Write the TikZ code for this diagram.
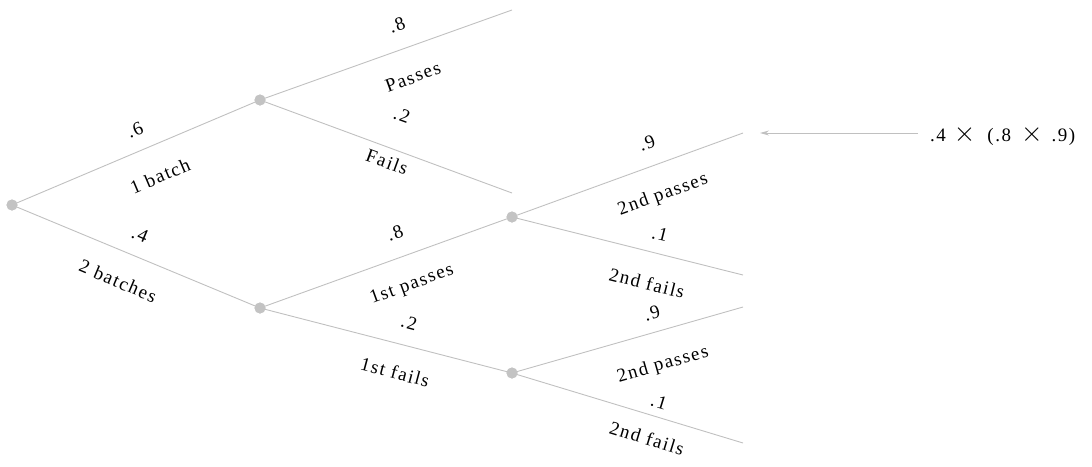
\documentclass[tikz,border=0pt]{standalone}
\usepackage{fontspec}
\setmainfont{Liberation Serif}
\newfontfamily\spacedfont[LetterSpace=8]{Liberation Serif}
\usetikzlibrary{arrows.meta}
\definecolor{linegray}{RGB}{192,192,192}
\definecolor{dotgray}{RGB}{195,195,195}
\newcommand{\bigtimes}{\scalebox{1.6}{$\times$}}
\begin{document}
\begin{tikzpicture}[x=1pt,y=-1pt,
  branch/.style={draw=linegray, line width=0.9pt},
  dot/.style={circle, fill=dotgray, inner sep=0pt, minimum size=11pt},
  lbl/.style={font=\spacedfont\fontsize{19}{22}\selectfont, inner sep=0pt, text=black}]
\useasboundingbox (0,0) rectangle (1092,466);
% nodes
\node[dot] (r) at (12,205) {};
\node[dot] (a) at (260,100) {};
\node[dot] (b) at (260,308) {};
\node[dot] (c) at (512,217) {};
\node[dot] (d) at (512,373) {};
\coordinate (a1) at (512,10);
\coordinate (a2) at (512,193);
\coordinate (c1) at (743,133);
\coordinate (c2) at (743,275);
\coordinate (d1) at (743,307);
\coordinate (d2) at (743,443);
\coordinate (arrS) at (918,133);
\coordinate (arrE) at (760,133);
% branches
\draw[branch] (r.center) -- (a.center);
\draw[branch] (r.center) -- (b.center);
\draw[branch] (a.center) -- (a1);
\draw[branch] (a.center) -- (a2);
\draw[branch] (b.center) -- (c.center);
\draw[branch] (b.center) -- (d.center);
\draw[branch] (c.center) -- (c1);
\draw[branch] (c.center) -- (c2);
\draw[branch] (d.center) -- (d1);
\draw[branch] (d.center) -- (d2);
\node[dot] at (r) {};
\node[dot] at (a) {};
\node[dot] at (b) {};
\node[dot] at (c) {};
\node[dot] at (d) {};
% labels
\node[lbl, rotate=23] (l1) at (135,130) {.6};
\node[lbl, rotate=23] (l2) at (160,176) {1 batch};
\node[lbl, rotate=-23] (l3) at (140,235) {.4};
\node[lbl, rotate=-23] (l4) at (118,281) {2 batches};
\node[lbl, rotate=20] (l5) at (397,25) {.8};
\node[lbl, rotate=20] (l6) at (413,77) {Passes};
\node[lbl, rotate=-20] (l7) at (402,115) {.2};
\node[lbl, rotate=-20] (l8) at (387,162) {Fails};
\node[lbl, rotate=20] (l9) at (395,233) {.8};
\node[lbl, rotate=20] (l10) at (412,285) {1st passes};
\node[lbl, rotate=-15] (l11) at (409,323) {.2};
\node[lbl, rotate=-15] (l12) at (395,372) {1st fails};
\node[lbl, rotate=20] (l13) at (647,143) {.9};
\node[lbl, rotate=20] (l14) at (663,195) {2nd passes};
\node[lbl, rotate=-14] (l15) at (660,234) {.1};
\node[lbl, rotate=-14] (l16) at (647,283) {2nd fails};
\node[lbl, rotate=16] (l17) at (652,313) {.9};
\node[lbl, rotate=16] (l18) at (663,365) {2nd passes};
\node[lbl, rotate=-17] (l19) at (659,402) {.1};
\node[lbl, rotate=-17] (l20) at (647,438) {2nd fails};
% arrow
\draw[branch, -{Stealth[length=9pt,width=5pt]}] (arrS) -- (arrE);
\node[lbl, anchor=base west] (res) at (930,141) {.4\hspace{8pt}\bigtimes\hspace{12pt}(.8\hspace{10pt}\bigtimes\hspace{9pt}.9)};
\end{tikzpicture}
\end{document}
